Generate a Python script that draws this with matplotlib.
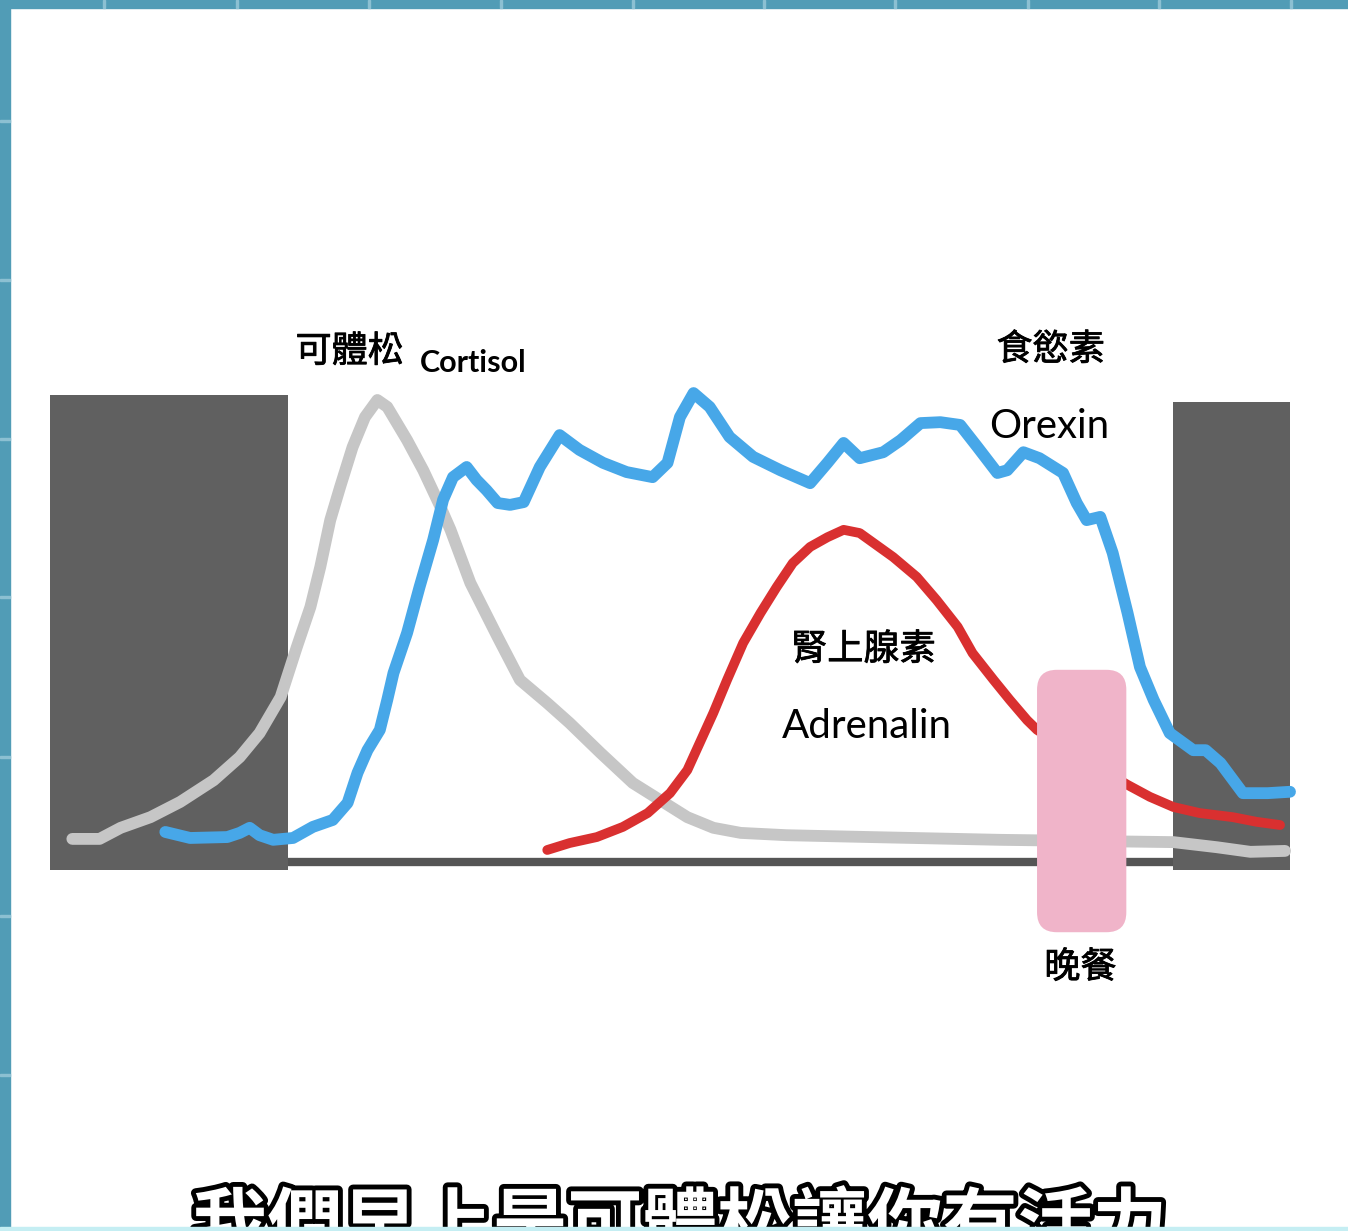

# Hormone levels through the day - cortisol, orexin, adrenalin
# hand-drawn style diagram

import numpy as np
import matplotlib.pyplot as plt
import matplotlib.patheffects as pe
from matplotlib.patches import Rectangle, FancyBboxPatch

plt.rcParams['font.family'] = ['Noto Sans CJK TC', 'DejaVu Sans']

# time axis in arbitrary units (0 = left edge of night block, 100 = right edge)
# level in arbitrary units (0 = baseline, 100 = cortisol peak)
cortisol_t = [1.8, 4.0, 5.7, 8.1, 10.5, 13.2, 15.3, 16.9, 18.6, 19.9, 21.0, 21.8, 22.6, 23.4,
              24.4, 25.4, 26.4, 27.2, 28.8, 30.1, 31.5, 32.3, 33.9, 36.1, 37.9, 40.1, 41.9,
              44.4, 47.0, 49.2, 51.4, 53.5, 55.7, 59.4, 66.1, 76.6, 90.6, 94.1, 96.8, 99.6]
cortisol_v = [5.0, 5.0, 7.4, 9.7, 13.0, 17.7, 22.7, 27.9, 35.7, 46.5, 55.2, 63.9, 74.0, 81.2,
              89.8, 96.3, 100.0, 98.5, 91.3, 84.8, 76.8, 71.9, 60.4, 48.7, 39.4, 34.4, 30.1,
              23.6, 17.1, 13.4, 9.7, 7.4, 6.3, 5.8, 5.4, 4.8, 4.3, 3.2, 2.2, 2.4]

orexin_t = [9.3, 11.3, 14.3, 15.3, 16.1, 16.9, 18.0, 19.6, 21.2, 22.8, 24.0, 24.8, 25.6, 26.6,
            27.2, 27.7, 28.8, 29.8, 30.9, 31.7, 32.5, 33.6, 34.4, 35.2, 36.1, 37.1, 38.2, 39.5,
            41.1, 42.7, 44.6, 46.5, 48.6, 49.8, 50.8, 51.9, 53.2, 54.8, 56.7, 58.9, 61.3, 62.7,
            64.0, 65.3, 67.2, 68.6, 70.2, 71.8, 73.4, 74.8, 76.4, 77.2, 78.5, 79.8, 81.7, 82.8,
            83.6, 84.7, 85.7, 86.9, 87.9, 89.0, 90.3, 92.2, 93.2, 94.4, 96.2, 98.2, 100.0]
orexin_v = [6.5, 5.2, 5.4, 6.3, 7.4, 5.8, 4.8, 5.2, 7.6, 9.1, 12.8, 19.3, 24.2, 28.6,
            35.1, 40.9, 49.6, 59.5, 69.7, 78.4, 83.3, 85.5, 82.7, 80.5, 77.7, 77.3, 77.9, 85.5,
            92.4, 89.2, 86.4, 84.4, 83.3, 86.4, 96.3, 101.5, 98.5, 92.0, 87.7, 84.8, 82.0, 86.4,
            90.7, 87.4, 88.7, 91.3, 95.0, 95.2, 94.6, 89.8, 84.2, 84.8, 88.7, 87.4, 84.2, 77.7,
            74.0, 74.7, 66.9, 53.9, 42.2, 35.1, 27.9, 24.2, 24.2, 21.4, 14.9, 14.9, 15.2]

adrenalin_t = [40.1, 41.9, 44.1, 46.2, 48.2, 50.0, 51.4, 52.4, 53.5, 54.6, 55.9, 57.3, 58.6,
               59.9, 61.3, 62.7, 64.0, 65.3, 68.0, 69.9, 71.5, 73.2, 74.4, 76.1, 77.4, 78.8,
               79.6, 83.1, 86.9, 88.7, 90.6, 92.7, 95.4, 97.3, 99.2]
adrenalin_v = [2.6, 4.1, 5.4, 7.6, 10.6, 14.9, 19.9, 25.8, 32.3, 39.4, 47.4, 53.9, 59.5,
               64.7, 68.2, 70.3, 71.9, 71.2, 66.0, 61.7, 56.7, 50.9, 45.2, 39.4, 35.1, 30.7,
               28.6, 22.7, 16.7, 14.1, 11.9, 10.6, 9.7, 8.7, 8.0]

# night blocks (start, end, top) and dinner window
night_blocks = [(0.0, 19.2, 101.1), (90.6, 100.0, 99.6)]
dinner = (79.6, 86.8, -15.2, 41.6)

fig = plt.figure(figsize=(13.48, 12.31), dpi=100)
fig.patch.set_facecolor('white')

# screen frame (blue border)
frame = '#519cb6'
fig.patches.append(Rectangle((0, 1 - 8 / 1231), 1, 8 / 1231, transform=fig.transFigure,
                             color=frame, zorder=0))
fig.patches.append(Rectangle((0, 0), 10 / 1348, 1, transform=fig.transFigure,
                             color=frame, zorder=0))
for xt in [103, 236, 368, 500, 632, 763, 894, 1027, 1158, 1290]:
    fig.patches.append(Rectangle((xt / 1348, 1 - 8 / 1231), 2 / 1348, 8 / 1231,
                                 transform=fig.transFigure, color='#8cc0d2', zorder=1))
for yt in [122, 281, 440, 598, 758, 917, 1076]:
    fig.patches.append(Rectangle((0, 1 - yt / 1231), 10 / 1348, 2 / 1231,
                                 transform=fig.transFigure, color='#8cc0d2', zorder=1))

ax = fig.add_axes([0, 0, 1, 1])
sx, sy = 12.4, 4.62  # px per unit
ax.set_xlim(-50 / sx, 1298 / sx)
ax.set_ylim((862 - 1231) / sy, 862 / sy)
ax.axis('off')

# night blocks
for t0, t1, top in night_blocks:
    ax.add_patch(Rectangle((t0, -1.7), t1 - t0, top + 1.7, color='#606060', lw=0, zorder=1))
# baseline
ax.plot([night_blocks[0][1], night_blocks[1][0]], [0, 0], color='#555555', lw=6,
        solid_capstyle='butt', zorder=1.5)

kw = dict(solid_capstyle='round', solid_joinstyle='round')
ax.plot(cortisol_t, cortisol_v, color='#c6c6c6', lw=8.5, zorder=2, **kw)
ax.plot(adrenalin_t, adrenalin_v, color='#d93030', lw=7, zorder=3, **kw)
ax.plot(orexin_t, orexin_v, color='#47a7e8', lw=8.5, zorder=4, **kw)

# dinner window
d0, d1, b0, b1 = dinner
ax.add_patch(FancyBboxPatch((d0, b0), d1 - d0, b1 - b0,
                            boxstyle='round,pad=0,rounding_size=1.6',
                            mutation_aspect=sx / sy, color='#f0b4c9', lw=0, zorder=5))

# labels
lab = dict(fontsize=26, zorder=6, path_effects=[pe.withStroke(linewidth=0.6, foreground='black')])
ax.text(19.8, 110.4, '可體松', ha='left', va='center', **lab)
ax.text(29.8, 106.0, 'Cortisol', fontsize=22, fontweight='bold', family='Lato',
        ha='left', va='baseline', zorder=6)
ax.text(80.7, 110.8, '食慾素', ha='center', va='center', **lab)
ax.text(80.6, 91.8, 'Orexin', fontsize=29, family='Lato', ha='center', va='baseline', zorder=6)
ax.text(65.6, 45.9, '腎上腺素', ha='center', va='center', **lab)
ax.text(65.9, 26.8, 'Adrenalin', fontsize=29, family='Lato', ha='center', va='baseline',
        zorder=6)
ax.text(83.1, -22.9, '晚餐', ha='center', va='center', **lab)

# subtitle (cut off by the bottom edge, as in the source frame)
sub = ax.text(50.8, -71.0, '我們早上是可體松讓你有活力', fontsize=54, fontweight='bold',
              color='white', ha='center', va='top', zorder=7)
sub.set_path_effects([pe.Stroke(linewidth=7, foreground='black'), pe.Normal()])

fig.patches.append(Rectangle((0, 0), 1, 4 / 1231, transform=fig.transFigure,
                             color='#c5eef3', zorder=10))

plt.savefig('out.png', dpi=100)
